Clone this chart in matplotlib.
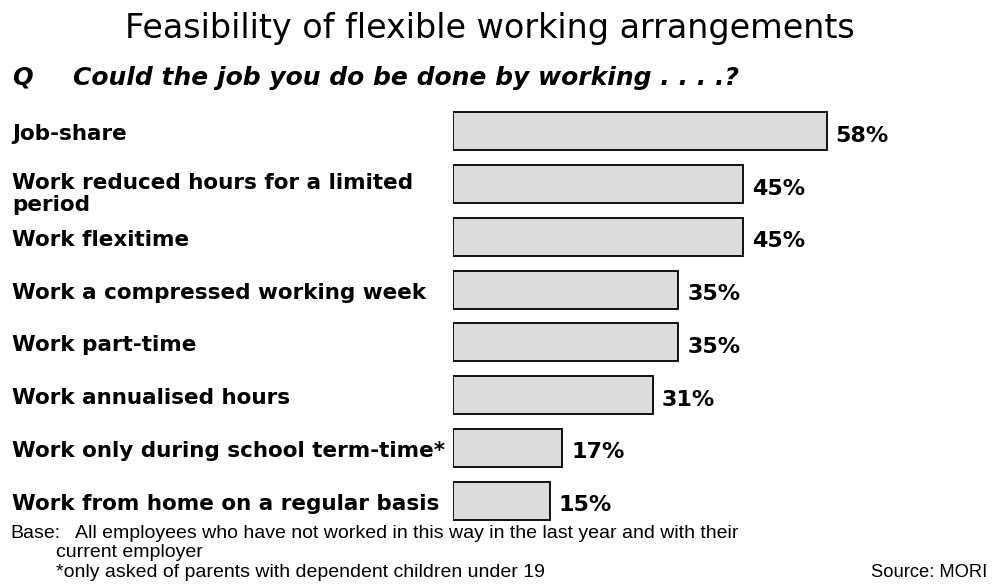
import matplotlib
matplotlib.use('Agg')
import matplotlib.pyplot as plt
from matplotlib import font_manager
import matplotlib.transforms as mtransforms

# data
categories = [
    'Job-share',
    'Work reduced hours for a limited\nperiod',
    'Work flexitime',
    'Work a compressed working week',
    'Work part-time',
    'Work annualised hours',
    'Work only during school term-time*',
    'Work from home on a regular basis',
]
values = [58, 45, 45, 35, 35, 31, 17, 15]
value_labels = ['58%', '45%', '45%', '35%', '35%', '31%', '17%', '15%']

title = 'Feasibility of flexible working arrangements'
question = 'Could the job you do be done by working . . . .?'
base_note = 'All employees who have not worked in this way in the last year and with their'
base_note2 = 'current employer'
star_note = '*only asked of parents with dependent children under 19'
source = 'Source: MORI'

W, H = 997, 587
fig = plt.figure(figsize=(W / 100, H / 100), dpi=100)

names = {f.name for f in font_manager.fontManager.ttflist}
narrow = 'Liberation Sans Narrow' if 'Liberation Sans Narrow' in names else 'Liberation Sans'
foot_size = 15.5 if narrow == 'Liberation Sans Narrow' else 14

# bar area in pixels
left_px, right_px = 453, 994
top_px, bot_px = 105, 527
ax = fig.add_axes([left_px / W, 1 - bot_px / H,
                   (right_px - left_px) / W, (bot_px - top_px) / H])
xmax = (right_px - left_px) / 6.44
ax.set_xlim(0, xmax)
ax.set_ylim(len(values) - 0.5, -0.5)
ax.axis('off')

ypos = list(range(len(values)))
ax.barh(ypos, values, height=0.72, color='#dcdcdc', edgecolor='#111111',
        linewidth=1.4, align='center')

for y, v, lab in zip(ypos, values, value_labels):
    ax.annotate(lab, xy=(v, y), xytext=(6.5, -7.5), textcoords='offset points',
                ha='left', va='baseline', fontsize=16, fontweight='bold',
                family='DejaVu Sans')

# category labels at the left edge of the figure
trans = mtransforms.blended_transform_factory(fig.transFigure, ax.transData)
for y, cat in zip(ypos, categories):
    off = -19.0 if '\n' in cat else -6.5
    t = fig.text(12 / W, y, cat, ha='left', va='baseline',
                 fontsize=15.5, fontweight='bold', family='DejaVu Sans',
                 linespacing=1.08)
    t.set_transform(trans + mtransforms.ScaledTranslation(0, off / 72, fig.dpi_scale_trans))

fig.text(490 / W, 1 - 37.7 / H, title, ha='center', va='baseline',
         fontsize=24, family='DejaVu Sans')
fig.text(12 / W, 1 - 85 / H, 'Q', ha='left', va='baseline', fontsize=17.5,
         fontweight='bold', style='italic', family='DejaVu Sans')
fig.text(73 / W, 1 - 85 / H, question, ha='left', va='baseline', fontsize=18,
         fontweight='bold', style='italic', family='DejaVu Sans')

fig.text(10 / W, 1 - 538 / H, 'Base:', ha='left', va='baseline',
         fontsize=foot_size, family=narrow)
fig.text(75 / W, 1 - 538 / H, base_note, ha='left', va='baseline',
         fontsize=foot_size, family=narrow)
fig.text(56 / W, 1 - 557 / H, base_note2, ha='left', va='baseline',
         fontsize=foot_size, family=narrow)
fig.text(56 / W, 1 - 577 / H, star_note, ha='left', va='baseline',
         fontsize=foot_size, family=narrow)
fig.text(987 / W, 1 - 577 / H, source, ha='right', va='baseline',
         fontsize=13.2, family=narrow)

fig.savefig('out.png', dpi=100, facecolor='white')
